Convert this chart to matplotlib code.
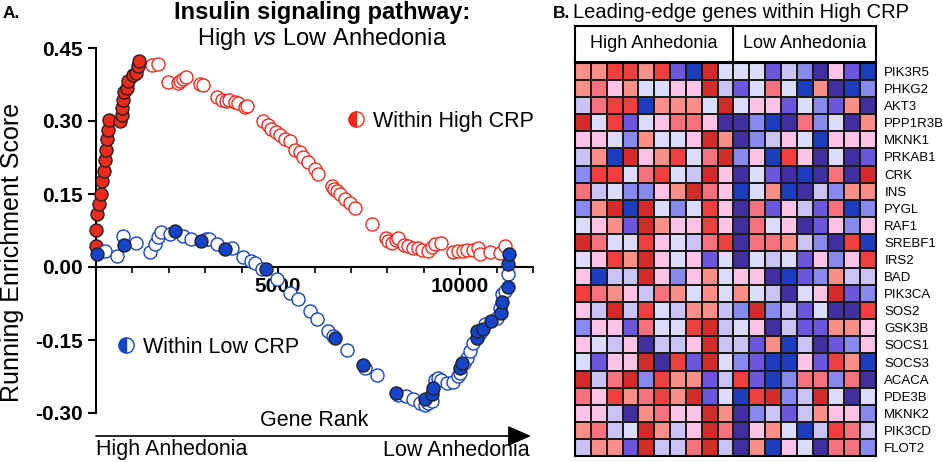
import numpy as np
import matplotlib
matplotlib.use('Agg')
import matplotlib.pyplot as plt
from matplotlib.colors import ListedColormap, BoundaryNorm
from matplotlib.lines import Line2D
from matplotlib.ticker import MultipleLocator, FormatStrFormatter

plt.rcParams['font.family'] = ['Liberation Sans', 'DejaVu Sans']
plt.rcParams['mathtext.fontset'] = 'custom'
plt.rcParams['mathtext.rm'] = 'Liberation Sans'
plt.rcParams['mathtext.it'] = 'Liberation Sans:italic'

# ---------------- panel A data ----------------
# within High CRP, leading-edge genes (filled)
high_le_rank = [0, 0, 27, 82, 137, 165, 220, 247, 275, 302, 330, 357, 659, 714, 714,
                742, 769, 852, 879, 1016, 1099, 1154, 1181]
high_le_es = [0.043, 0.076, 0.108, 0.129, 0.149, 0.176, 0.198, 0.219, 0.241, 0.264,
              0.282, 0.303, 0.299, 0.313, 0.327, 0.344, 0.360, 0.368, 0.383, 0.395,
              0.399, 0.413, 0.424]
# within High CRP, other genes (open)
high_rank = [1538, 1703, 1978, 2253, 2307, 2390, 2472, 2857, 2939, 3324, 3461, 3571,
             3654, 3818, 3901, 4093, 4148, 4587, 4725, 4807, 4945, 5054, 5192, 5329,
             5466, 5604, 5686, 5824, 6016, 6098, 6483, 6538, 6620, 6703, 6840, 6977,
             7115, 7582, 7966, 8021, 8131, 8241, 8296, 8461, 8571, 8708, 8845, 8955,
             9120, 9230, 9312, 9477, 9807, 9944, 10081, 10191, 10356, 10493, 10548,
             10823, 11098, 11235]
high_es = [0.415, 0.417, 0.381, 0.379, 0.383, 0.387, 0.391, 0.377, 0.374, 0.350, 0.344,
           0.342, 0.344, 0.340, 0.336, 0.329, 0.331, 0.299, 0.291, 0.284, 0.278, 0.272,
           0.262, 0.258, 0.241, 0.237, 0.227, 0.215, 0.201, 0.192, 0.166, 0.160, 0.156,
           0.149, 0.139, 0.131, 0.121, 0.088, 0.059, 0.053, 0.049, 0.055, 0.059, 0.045,
           0.043, 0.039, 0.039, 0.035, 0.033, 0.041, 0.047, 0.049, 0.031, 0.033, 0.033,
           0.035, 0.035, 0.039, 0.027, 0.031, 0.029, 0.043]

# within Low CRP, leading-edge genes (filled)
low_le_rank = [27, 769, 2170, 2884, 3544, 4670, 6565, 7334, 8241, 9038, 9230, 9257,
               9999, 10054, 10466, 10466, 10631, 10851, 11125, 11153, 11318, 11318, 11345]
low_le_es = [0.027, 0.045, 0.074, 0.053, 0.037, -0.004, -0.145, -0.201, -0.258, -0.272,
             -0.260, -0.248, -0.207, -0.198, -0.145, -0.131, -0.127, -0.110, -0.094,
             -0.072, -0.041, 0.006, 0.027]
# within Low CRP, other genes (open)
low_rank = [247, 577, 742, 1099, 1483, 1621, 1703, 1786, 2033, 2390, 2610, 3022, 3104,
            3324, 3736, 4038, 4258, 4368, 4560, 4972, 5329, 5549, 5879, 6071, 6373,
            6510, 6895, 7389, 7719, 8296, 8516, 8708, 8900, 9038, 9120, 9230, 9312,
            9395, 9477, 9642, 9807, 9944, 9999, 10109, 10191, 10274, 10356, 10548,
            10686, 11015, 11098, 11153, 11235, 11318]
low_es = [0.033, 0.023, 0.063, 0.049, 0.031, 0.047, 0.061, 0.072, 0.068, 0.063, 0.057,
          0.057, 0.057, 0.047, 0.039, 0.020, 0.012, 0.008, -0.004, -0.025, -0.053,
          -0.065, -0.090, -0.106, -0.131, -0.141, -0.170, -0.207, -0.221, -0.262,
          -0.266, -0.272, -0.280, -0.284, -0.280, -0.276, -0.233, -0.229, -0.233,
          -0.239, -0.237, -0.223, -0.217, -0.198, -0.186, -0.172, -0.156, -0.135,
          -0.117, -0.104, -0.084, -0.055, -0.049, -0.014]

y_ticks = [0.45, 0.30, 0.15, 0.00, -0.15, -0.30]
x_ticks = [5000, 10000]

# ---------------- panel B data ----------------
genes = ['PIK3R5', 'PHKG2', 'AKT3', 'PPP1R3B', 'MKNK1', 'PRKAB1', 'CRK', 'INS', 'PYGL',
         'RAF1', 'SREBF1', 'IRS2', 'BAD', 'PIK3CA', 'SOS2', 'GSK3B', 'SOCS1', 'SOCS3',
         'ACACA', 'PDE3B', 'MKNK2', 'PIK3CD', 'FLOT2']
groups = ['High Anhedonia', 'Low Anhedonia']
n_high = 10
n_low = 9
# colour level per cell: -5 (deep blue) .. 5 (deep red)
heat = [
    [2, 2, 4, 4, 2, 4, -3, -5, 5, 0, 0, 0, -3, -1, -2, -4, 1, -3, -5],
    [2, 3, 1, 2, 0, 0, 1, 1, 5, -1, -3, 0, 3, 0, -5, 2, -4, -5, -2],
    [-1, 3, 4, 4, -5, 2, 2, 2, 0, 5, 0, 1, 1, -3, 0, -2, -3, 2, -4],
    [5, 0, 4, -3, 0, 1, 3, 3, 1, -4, -4, -2, -5, -4, 3, -2, 0, -4, 2],
    [1, 1, 0, -2, 2, 0, 0, 1, 5, 2, -4, -2, -1, 1, 0, -5, 1, 1, 1],
    [-1, 2, -5, 5, 1, 2, 4, 0, 3, 5, -2, 1, -5, 4, 1, -4, 0, -4, -3],
    [-2, 4, 4, 0, 3, 4, 0, -1, 5, 1, -4, 0, -3, -4, -5, -4, 3, -4, 5],
    [3, -1, 0, -2, -2, 1, 2, 5, 3, 1, -5, 0, 2, -5, -4, -1, -2, 2, 2],
    [-2, 2, 5, -5, 5, 0, -2, 0, 4, 1, -4, 3, -3, 1, -1, -3, 3, -5, -2],
    [0, 1, 2, -3, 5, 2, 1, 1, 4, 1, -4, 3, 0, 1, -4, -3, 1, -2, 1],
    [5, 3, 0, 0, 4, 1, 0, -1, 3, 4, -4, 3, 3, 2, -1, -2, -4, 4, -5],
    [0, 1, 4, 2, 5, 1, 0, 1, -3, 0, -4, 0, -1, 0, -3, 1, -2, 1, 4],
    [1, -5, -1, -1, 5, 1, -2, 1, 2, 0, 1, 1, -4, -5, -3, -2, 2, -1, -1],
    [4, 3, 2, 1, -1, 3, 2, 0, 2, 0, 2, 0, -1, -4, 0, 1, 5, -3, -2],
    [1, -1, 5, -1, 4, 0, -1, 2, 2, -1, -2, 5, -2, -1, -3, 0, -4, -4, 4],
    [-2, 1, 1, -3, 3, 0, 0, 4, 5, -1, 0, 1, -4, -1, -3, -3, 2, 2, 1],
    [1, 0, -1, 1, -4, -1, -1, 1, 5, -1, -1, -3, 2, -5, -1, -4, -3, -2, 1],
    [0, -3, 1, 1, 5, -4, 4, -3, 5, 0, -2, -3, -5, -5, 1, -3, 4, 2, -5],
    [5, -1, 3, 5, -2, 4, 2, 2, -3, -1, 4, -3, -5, -2, 3, 3, -2, 3, -4],
    [3, 1, 4, 2, 3, 4, 2, 5, -3, 0, -5, 4, 5, -2, -1, 5, 0, -4, 0],
    [1, 1, -1, -4, 2, 3, 1, 1, 5, 2, -4, -2, -1, -3, -1, 2, 1, 1, -2],
    [2, 3, -1, 0, 5, 2, -1, 1, 5, 3, -4, 1, 2, 0, -5, -1, 4, 3, -1],
    [-1, 2, 2, -3, 5, -1, -1, 3, 5, -1, -4, 2, -5, 1, 0, -4, 3, 3, -2],
]
level_colors = ['#1e3cbe', '#412f9f', '#6b56dd', '#8789ef', '#c8c2f5', '#dcdcfa',
                '#fdc3e6', '#fa8f87', '#f7717e', '#ef4040', '#d22b2b']

W, H = 943, 462
RED = '#ee2a1c'
BLUE = '#1444cc'
MS = 88

fig = plt.figure(figsize=(W / 100, H / 100), dpi=100)

# ======================= A: running enrichment score =======================
ax = fig.add_axes([96 / W, 49 / H, 437 / W, 365 / H])
ax.scatter(high_rank, high_es, s=MS, facecolor='white', edgecolor=RED, lw=1.0, clip_on=False, zorder=3)
ax.scatter(high_le_rank, high_le_es, s=MS, facecolor=RED, edgecolor='#222222', lw=1.0, clip_on=False, zorder=4)
ax.scatter(low_rank, low_es, s=MS, facecolor='white', edgecolor=BLUE, lw=1.0, clip_on=False, zorder=5)
ax.scatter(low_le_rank, low_le_es, s=MS, facecolor=BLUE, edgecolor='#222222', lw=1.0, clip_on=False, zorder=6)

ax.set_xlim(0, 12000)
ax.set_ylim(-0.30, 0.45)
ax.spines['top'].set_visible(False)
ax.spines['right'].set_visible(False)
ax.spines['bottom'].set_position(('data', 0))
for s in ['left', 'bottom']:
    ax.spines[s].set_linewidth(1.5)
ax.set_yticks(y_ticks)
ax.yaxis.set_major_formatter(FormatStrFormatter('%.2f'))
ax.set_xticks(x_ticks)
ax.xaxis.set_minor_locator(MultipleLocator(1000))
ax.tick_params(axis='both', which='major', width=1.5, length=6, labelsize=15)
ax.tick_params(axis='x', which='minor', width=1.2, length=4)
ax.tick_params(axis='x', which='major', pad=1)
for lab in ax.get_xticklabels() + ax.get_yticklabels():
    lab.set_fontweight('bold')

fig.text(12 / W, 1 - 252 / H, 'Running Enrichment Score', fontsize=18, rotation=90,
         ha='center', va='center')

h_handle = Line2D([], [], marker='o', ls='none', markersize=11, fillstyle='left',
                  markerfacecolor=RED, markerfacecoloralt='white', markeredgecolor=RED)
l_handle = Line2D([], [], marker='o', ls='none', markersize=11, fillstyle='left',
                  markerfacecolor=BLUE, markerfacecoloralt='white', markeredgecolor=BLUE)
leg1 = ax.legend([h_handle], ['Within High CRP'], loc='center left', frameon=False,
                 bbox_to_anchor=(0.52, 0.80), fontsize=15.5, handletextpad=0.2, handlelength=1.2)
ax.add_artist(leg1)
ax.legend([l_handle], ['Within Low CRP'], loc='center left', frameon=False,
          bbox_to_anchor=(-0.005, 0.18), fontsize=15.5, handletextpad=0.2, handlelength=1.2)

fig.text(3 / W, 1 - 14 / H, 'A.', fontsize=12.5, fontweight='bold', va='center')
fig.text(322 / W, 1 - 13 / H, 'Insulin signaling pathway:', fontsize=17, fontweight='bold',
         ha='center', va='center')
fig.text(322 / W, 1 - 39 / H, r'High $\mathit{vs}$ Low Anhedonia', fontsize=17,
         ha='center', va='center')
fig.text(314 / W, 1 - 420 / H, 'Gene Rank', fontsize=15.5, ha='center', va='center')
ax.annotate('', xy=(531 / W, 1 - 436 / H), xytext=(96 / W, 1 - 436 / H),
            xycoords='figure fraction', textcoords='figure fraction',
            arrowprops=dict(arrowstyle='-|>,head_length=0.8,head_width=0.35',
                            color='black', lw=1.2, mutation_scale=18,
                            shrinkA=0, shrinkB=0))
fig.text(96 / W, 1 - 450 / H, 'High Anhedonia', fontsize=15.5, ha='left', va='center')
fig.text(530 / W, 1 - 450 / H, 'Low Anhedonia', fontsize=15.5, ha='right', va='center')

# ======================= B: leading-edge heatmap =======================
cmap = ListedColormap(level_colors)
norm = BoundaryNorm(np.arange(-5.5, 6.0, 1.0), cmap.N)
hx = fig.add_axes([575 / W, 6 / H, 301 / W, 393 / H])
hx.pcolormesh(np.array(heat), cmap=cmap, norm=norm, edgecolors='#1a1a1a', linewidth=1.3)
hx.set_xlim(0, n_high + n_low)
hx.set_ylim(len(genes), 0)
hx.set_xticks([])
hx.yaxis.tick_right()
hx.set_yticks(np.arange(len(genes)) + 0.5)
hx.set_yticklabels(genes, fontsize=9.5)
hx.tick_params(axis='y', length=0, pad=6)
for s in hx.spines.values():
    s.set_linewidth(1.5)

gx = fig.add_axes([575 / W, 400 / H, 301 / W, 36 / H])
gx.set_xlim(0, n_high + n_low)
gx.set_ylim(0, 1)
gx.set_xticks([])
gx.set_yticks([])
gx.axvline(n_high, color='black', lw=1.5)
for s in gx.spines.values():
    s.set_linewidth(1.5)
gx.text(n_high / 2, 0.5, groups[0], fontsize=13, ha='center', va='center')
gx.text(n_high + n_low / 2, 0.5, groups[1], fontsize=13, ha='center', va='center')

fig.text(553 / W, 1 - 14 / H, 'B.', fontsize=12.5, fontweight='bold', va='center')
fig.text(573 / W, 1 - 13 / H, 'Leading-edge genes within High CRP', fontsize=14.5,
         ha='left', va='center')

fig.savefig('out.png', dpi=100)
